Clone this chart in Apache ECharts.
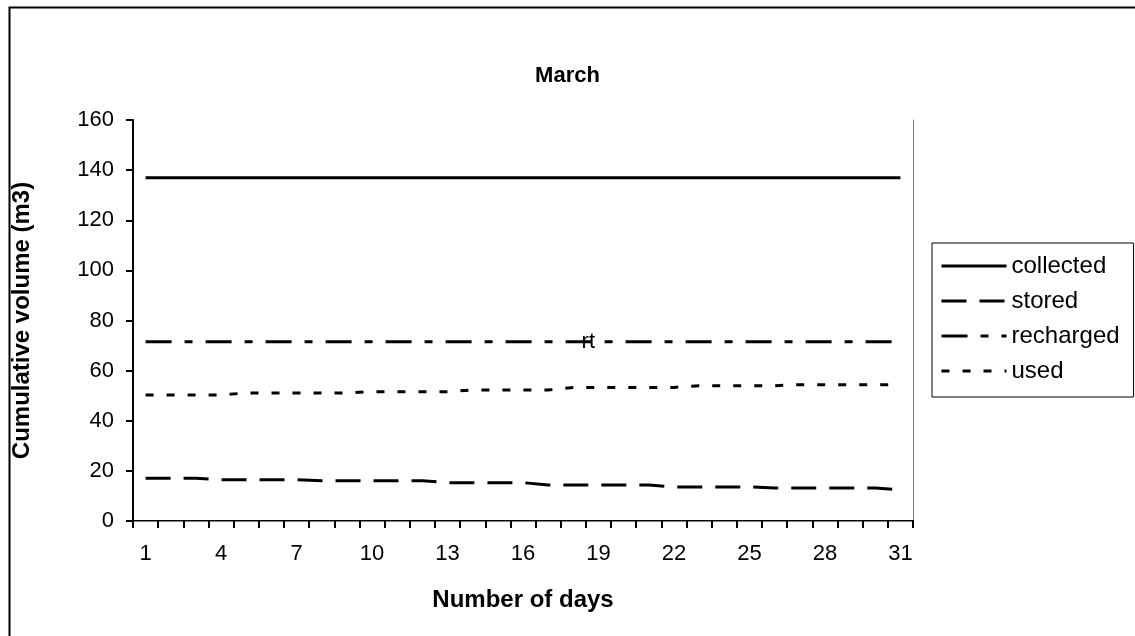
<!DOCTYPE html>
<html>
<head>
<meta charset="utf-8">
<script src="https://cdn.jsdelivr.net/npm/echarts@6/dist/echarts.min.js"></script>
<style>
html,body{margin:0;padding:0;background:#fff;}
#chart{width:1135px;height:636px;}
</style>
</head>
<body>
<div id="chart"></div>
<script>
const days = ['1','2','3','4','5','6','7','8','9','10','11','12','13','14','15','16','17','18','19','20','21','22','23','24','25','26','27','28','29','30','31'];
const collected = [137,137,137,137,137,137,137,137,137,137,137,137,137,137,137,137,137,137,137,137,137,137,137,137,137,137,137,137,137,137,137];
const stored = [17.1,17.1,17.1,16.5,16.5,16.5,16.5,16.1,16.1,16.1,16.1,16.1,15.3,15.3,15.3,15.3,14.4,14.4,14.4,14.4,14.4,13.6,13.6,13.6,13.6,13.2,13.2,13.2,13.2,13.2,12.4];
const recharged = [71.5,71.5,71.5,71.5,71.5,71.5,71.5,71.5,71.5,71.5,71.5,71.5,71.5,71.5,71.5,71.5,71.5,71.5,71.5,71.5,71.5,71.5,71.5,71.5,71.5,71.5,71.5,71.5,71.5,71.5,71.5];
const used = [50.3,50.3,50.3,50.3,51.1,51.1,51.1,51.1,51.1,51.6,51.6,51.6,51.6,52.3,52.3,52.3,52.3,53.3,53.3,53.3,53.3,53.3,54.0,54.0,54.0,54.0,54.4,54.4,54.4,54.4,54.4];
const yTicks = {min: 0, max: 160, interval: 20};

const FONT = '"Liberation Sans", Arial, sans-serif';
const chart = echarts.init(document.getElementById('chart'), null, {renderer: 'canvas'});

function lineSeries(name, data, dash) {
  return {
    name: name, type: 'line', data: data, symbol: 'none',
    xAxisIndex: 0, yAxisIndex: 0,
    lineStyle: {color: '#000', width: 3, type: dash, cap: 'butt'},
    itemStyle: {color: '#000'},
    emphasis: {disabled: true},
    animation: false
  };
}

const rechargedSeries = lineSeries('recharged', recharged, [26, 13, 8, 13]);
rechargedSeries.markPoint = {
  symbol: 'circle', symbolSize: 0, silent: true,
  label: {show: true, formatter: 'rt', color: '#000', fontFamily: FONT, fontSize: 22, offset: [15, 0]},
  data: [{coord: [17, 71.5]}]
};

chart.setOption({
  backgroundColor: '#fff',
  animation: false,
  title: {
    text: 'March', left: 'center', top: 60,
    textStyle: {fontFamily: FONT, fontSize: 22, fontWeight: 'bold', color: '#000'}
  },
  grid: {left: 133, right: 222, top: 120, bottom: 115, containLabel: false},
  legend: {
    orient: 'vertical', left: 932, top: 243,
    padding: [11, 14, 14, 8],
    borderColor: '#000', borderWidth: 1, borderRadius: 0,
    itemWidth: 65, itemHeight: 14, itemGap: 11,
    itemStyle: {color: 'rgba(0,0,0,0)', borderColor: 'rgba(0,0,0,0)', borderWidth: 0},
    lineStyle: {width: 3, color: '#000'},
    textStyle: {fontFamily: FONT, fontSize: 24, lineHeight: 24, color: '#000', padding: [0, 0, 0, 0]},
    data: ['collected', 'stored', 'recharged', 'used']
  },
  xAxis: [{
    type: 'category', data: days, boundaryGap: true,
    axisLine: {lineStyle: {color: '#000', width: 2}},
    axisTick: {show: true, interval: 0, length: 7, lineStyle: {color: '#000', width: 2}},
    axisLabel: {interval: 2, margin: 22, color: '#000', fontFamily: FONT, fontSize: 22},
    splitLine: {show: false},
    name: 'Number of days', nameLocation: 'middle', nameGap: 67,
    nameTextStyle: {fontFamily: FONT, fontSize: 24, fontWeight: 'bold', color: '#000'}
  }, {
    type: 'category', data: days, position: 'top', boundaryGap: true,
    axisLine: {show: true, lineStyle: {color: '#808080', width: 1}},
    axisTick: {show: false}, axisLabel: {show: false}, splitLine: {show: false}
  }],
  yAxis: [{
    type: 'value', min: yTicks.min, max: yTicks.max, interval: yTicks.interval,
    axisLine: {show: true, lineStyle: {color: '#000', width: 2}},
    axisTick: {show: true, length: 7, lineStyle: {color: '#000', width: 2}},
    axisLabel: {margin: 19, color: '#000', fontFamily: FONT, fontSize: 22},
    splitLine: {show: false},
    name: 'Cumulative volume (m3)', nameLocation: 'middle', nameGap: 99,
    nameTextStyle: {fontFamily: FONT, fontSize: 24, fontWeight: 'bold', color: '#000'}
  }, {
    type: 'value', position: 'right', min: yTicks.min, max: yTicks.max, interval: yTicks.interval,
    axisLine: {show: true, lineStyle: {color: '#808080', width: 1}},
    axisTick: {show: false}, axisLabel: {show: false}, splitLine: {show: false}
  }],
  graphic: [{
    type: 'rect', left: 7, top: 5, silent: true,
    shape: {width: 1200, height: 700},
    style: {fill: 'none', stroke: '#000', lineWidth: 2}
  }],
  series: [
    lineSeries('collected', collected, 'solid'),
    lineSeries('stored', stored, [25, 13]),
    rechargedSeries,
    lineSeries('used', used, [8, 13])
  ]
});
</script>
</body>
</html>
